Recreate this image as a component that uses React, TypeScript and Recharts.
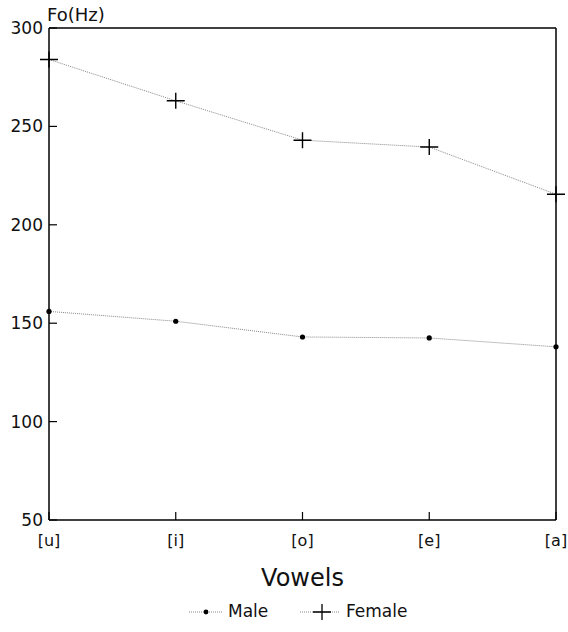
import { LineChart, Line, XAxis, YAxis, Legend, ReferenceLine } from 'recharts';

const vowels = ['[u]', '[i]', '[o]', '[e]', '[a]'];
const male = [156, 151, 143, 142.5, 138];
const female = [284, 263, 243, 239.5, 215.5];
const yTicks = [50, 100, 150, 200, 250, 300];

const chartData = vowels.map((v, i) => ({ vowel: v, male: male[i], female: female[i] }));

const FONT = '"DejaVu Sans", Arial, sans-serif';

const MaleDot = (props: any) => {
  const { cx, cy, key } = props;
  return <circle key={key} cx={cx} cy={cy} r={2.6} fill="#000" stroke="none" />;
};

const FemaleDot = (props: any) => {
  const { cx, cy, key } = props;
  return (
    <path
      key={key}
      d={`M${cx - 9},${cy}H${cx + 9}M${cx},${cy - 8}V${cy + 8}`}
      stroke="#000"
      strokeWidth={1.4}
      fill="none"
    />
  );
};

// tick marks point into the plot, so they are drawn with the labels
const renderXTick = (p: any) => (
  <g>
    <line x1={p.x} y1={p.y} x2={p.x} y2={p.y - 8} stroke="#000" strokeWidth={1.2} />
    <text x={p.x} y={p.y + 26} textAnchor="middle" fontFamily={FONT} fontSize={16} fill="#111">
      {p.payload.value}
    </text>
  </g>
);

const renderYTick = (p: any) => (
  <g>
    <line x1={p.x} y1={p.y} x2={p.x + 8} y2={p.y} stroke="#000" strokeWidth={1.2} />
    <text x={p.x - 6} y={p.y} dy={6} textAnchor="end" fontFamily={FONT} fontSize={17} fill="#111">
      {p.payload.value}
    </text>
  </g>
);

const LegendContent = () => (
  <div style={{ position: 'relative', width: 568, height: 44, fontFamily: FONT, fontSize: 17, color: '#111' }}>
    <svg width={36} height={20} style={{ position: 'absolute', left: 189, top: 14 }}>
      <line x1={0} y1={10} x2={34} y2={10} stroke="#888" strokeDasharray="1 1" />
      <circle cx={17} cy={10} r={2.4} fill="#000" />
    </svg>
    <span style={{ position: 'absolute', left: 228, top: 13 }}>Male</span>
    <svg width={44} height={20} style={{ position: 'absolute', left: 300, top: 14 }}>
      <line x1={0} y1={10} x2={40} y2={10} stroke="#888" strokeDasharray="1 1" />
      <path d="M13,10H31M22,2V18" stroke="#000" strokeWidth={1.3} />
    </svg>
    <span style={{ position: 'absolute', left: 346, top: 13 }}>Female</span>
  </div>
);

const FoLabel = (props: any) => {
  const { viewBox } = props;
  return (
    <text x={viewBox.x + viewBox.width - 2} y={viewBox.y - 7} fontFamily={FONT} fontSize={18} fill="#111">
      Fo(Hz)
    </text>
  );
};

export default function App() {
  return (
    <div style={{ position: 'absolute', left: 0, top: 0, background: '#fff' }}>
      <LineChart width={568} height={632} data={chartData} margin={{ top: 28, right: 12, left: 0, bottom: 0 }}>
        <XAxis
          dataKey="vowel"
          height={68}
          axisLine={{ stroke: '#000', strokeWidth: 1.5 }}
          tickLine={false}
          tickSize={0}
          tickMargin={0}
          tick={renderXTick}
          label={{ value: 'Vowels', position: 'insideBottom', offset: 2, fontFamily: FONT, fontSize: 24, fill: '#111' }}
        />
        <YAxis
          domain={[50, 300]}
          ticks={yTicks}
          width={49}
          axisLine={{ stroke: '#000', strokeWidth: 1.5 }}
          tickLine={false}
          tickSize={0}
          tickMargin={0}
          tick={renderYTick}
          label={<FoLabel />}
        />
        <ReferenceLine y={300} stroke="#000" strokeWidth={1.5} />
        <ReferenceLine x="[a]" stroke="#000" strokeWidth={1.5} />
        <Legend verticalAlign="bottom" content={<LegendContent />} />
        <Line dataKey="male" stroke="#888" strokeWidth={1} strokeDasharray="1 1" dot={MaleDot} isAnimationActive={false} />
        <Line dataKey="female" stroke="#888" strokeWidth={1} strokeDasharray="1 1" dot={FemaleDot} isAnimationActive={false} />
      </LineChart>
    </div>
  );
}
